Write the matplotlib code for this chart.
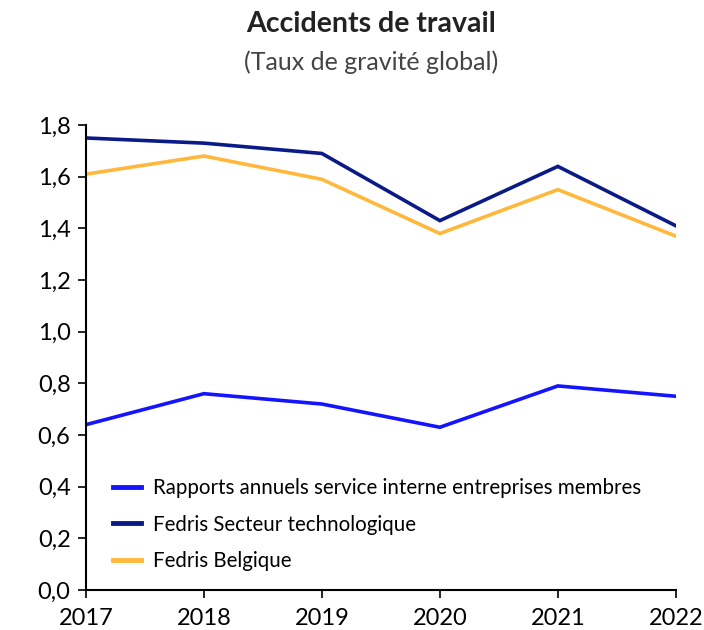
import matplotlib
matplotlib.use("Agg")
import matplotlib.pyplot as plt
from matplotlib.ticker import FuncFormatter

plt.rcParams['font.family'] = ['Lato', 'DejaVu Sans']

years = [2017, 2018, 2019, 2020, 2021, 2022]
rapports = [0.64, 0.76, 0.72, 0.63, 0.79, 0.75]
fedris_tech = [1.75, 1.73, 1.69, 1.43, 1.64, 1.41]
fedris_be = [1.61, 1.68, 1.59, 1.38, 1.55, 1.37]
labels = ["Rapports annuels service interne entreprises membres",
          "Fedris Secteur technologique",
          "Fedris Belgique"]
colors = ["#1414ff", "#0a1a86", "#ffb83c"]

fig = plt.figure(figsize=(7.04, 6.3), dpi=100)
ax = fig.add_axes([0.122, 0.0635, 0.838, 0.738])

for vals, lab, c in zip([rapports, fedris_tech, fedris_be], labels, colors):
    ax.plot(years, vals, color=c, lw=2.6, label=lab, solid_joinstyle='miter')

ax.set_xlim(2017, 2022)
ax.set_ylim(0, 1.8)
ax.set_yticks([i * 0.2 for i in range(10)])
ax.yaxis.set_major_formatter(FuncFormatter(lambda v, p: f"{v:.1f}".replace('.', ',')))
ax.set_xticks(years)
for s in ['top', 'right']:
    ax.spines[s].set_visible(False)
for s in ['left', 'bottom']:
    ax.spines[s].set_linewidth(1.5)
    ax.spines[s].set_color('black')
ax.tick_params(axis='both', labelsize=17, length=6, width=1.2, direction='out', colors='black')
ax.tick_params(axis='y', pad=5)
ax.tick_params(axis='x', pad=7)
ax.patch.set_visible(False)

leg = ax.legend(loc='lower left', bbox_to_anchor=(0.015, 0.0), frameon=False,
                fontsize=14.8, handlelength=1.35, labelspacing=0.82, handletextpad=0.6)
for l in leg.get_lines():
    l.set_linewidth(3.5)

fig.text(0.527, 0.962, "Accidents de travail", ha='center', va='center',
         fontsize=20.5, fontweight='bold', color='#222222')
fig.text(0.527, 0.902, "(Taux de gravité global)", ha='center', va='center',
         fontsize=18, color='#444444')

fig.savefig("out.png", dpi=100)
